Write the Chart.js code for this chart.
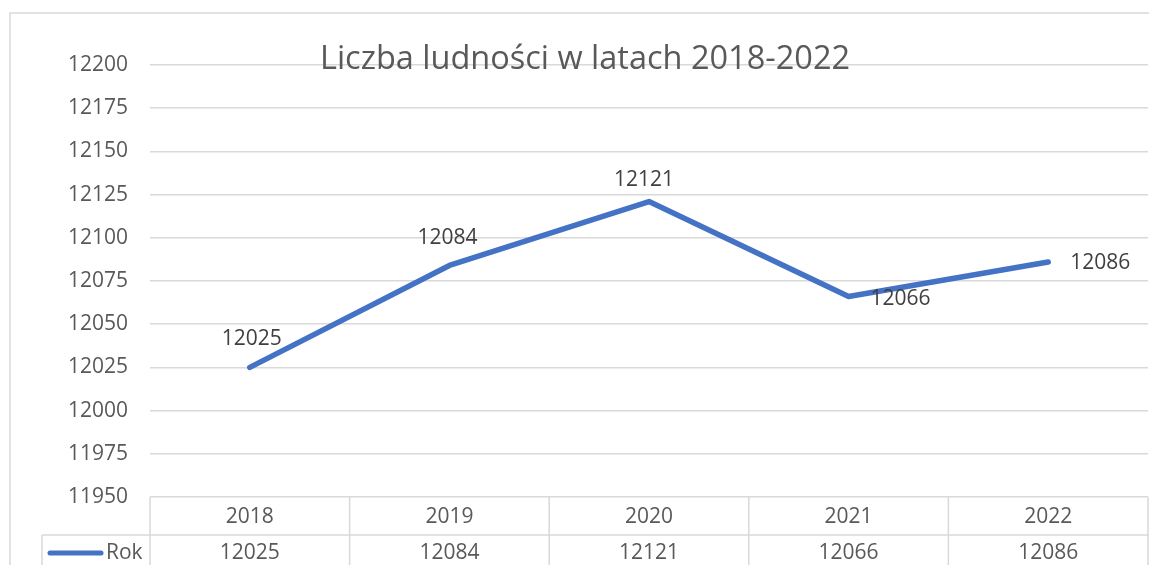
<!DOCTYPE html>
<html>
<head>
<meta charset="utf-8">
<script src="https://cdn.jsdelivr.net/npm/chart.js@4.4.0/dist/chart.umd.min.js"></script>
<style>
    body { margin: 0; background: #fff; }
</style>
</head>
<body>
<canvas id="wykres" width="1149" height="565"></canvas>
<script>
// dane wykresu
const lata = ['2018', '2019', '2020', '2021', '2022']
const ludnosc = [12025, 12084, 12121, 12066, 12086]
const nazwaSerii = 'Rok'
const tytulWykresu = 'Liczba ludności w latach 2018-2022'
const osYMin = 11950
const osYMax = 12200
const osYKrok = 25

// wygląd
const niebieski = '#4472C4'
const szaryTekst = '#595959'
const ciemnyTekst = '#404040'
const siatka = '#d9d9d9'
const czcionka = '"Open Sans", sans-serif'
// przesunięcia etykiet danych względem punktów
const przesuniecia = [[2, -28], [-2, -27], [-5, -21], [52, 2], [52, 1]]

const ramka = {
    id: 'ramka',
    beforeDraw(chart) {
        const ctx = chart.ctx
        ctx.save()
        ctx.strokeStyle = siatka
        ctx.lineWidth = 1.5
        ctx.strokeRect(10, 13, 1200, 600)
        ctx.restore()
    }
}

const tytul = {
    id: 'tytul',
    afterDraw(chart) {
        const ctx = chart.ctx
        ctx.save()
        ctx.font = '32.5px ' + czcionka
        ctx.fillStyle = szaryTekst
        ctx.textAlign = 'center'
        ctx.textBaseline = 'alphabetic'
        ctx.fillText(tytulWykresu, 585, 69)
        ctx.restore()
    }
}

const etykiety = {
    id: 'etykiety',
    afterDatasetsDraw(chart) {
        const ctx = chart.ctx
        const meta = chart.getDatasetMeta(0)
        ctx.save()
        ctx.font = '21px ' + czcionka
        ctx.fillStyle = ciemnyTekst
        ctx.textAlign = 'center'
        ctx.textBaseline = 'middle'
        meta.data.forEach(function (punkt, i) {
            ctx.fillText(String(ludnosc[i]), punkt.x + przesuniecia[i][0], punkt.y + przesuniecia[i][1])
        })
        ctx.restore()
    }
}

// tabela danych pod wykresem
const tabela = {
    id: 'tabela',
    afterDraw(chart) {
        const ctx = chart.ctx
        const obszar = chart.chartArea
        const x = chart.scales.x
        const szer = (obszar.right - obszar.left) / lata.length
        const gora = obszar.bottom
        const srodek = 535
        const dol = chart.height
        ctx.save()
        ctx.strokeStyle = siatka
        ctx.lineWidth = 1.5
        ctx.beginPath()
        ctx.moveTo(42, srodek)
        ctx.lineTo(chart.width, srodek)
        ctx.moveTo(42, srodek)
        ctx.lineTo(42, dol)
        for (let i = 0; i <= lata.length; i++) {
            const xx = obszar.left + i * szer
            ctx.moveTo(xx, gora)
            ctx.lineTo(xx, dol)
        }
        ctx.stroke()

        ctx.font = '21px ' + czcionka
        ctx.fillStyle = szaryTekst
        ctx.textAlign = 'center'
        ctx.textBaseline = 'middle'
        lata.forEach(function (rok, i) {
            const cx = x.getPixelForValue(i)
            ctx.fillText(rok, cx, 517)
            ctx.fillText(String(ludnosc[i]), cx, 553)
        })

        // klucz legendy
        ctx.strokeStyle = niebieski
        ctx.lineWidth = 5
        ctx.lineCap = 'round'
        ctx.beginPath()
        ctx.moveTo(50, 553)
        ctx.lineTo(101, 553)
        ctx.stroke()
        ctx.textAlign = 'left'
        ctx.fillText(nazwaSerii, 106, 553)
        ctx.restore()
    }
}

new Chart(document.getElementById('wykres'), {
    type: 'line',
    data: {
        labels: lata,
        datasets: [{
            label: nazwaSerii,
            data: ludnosc,
            borderColor: niebieski,
            borderWidth: 5.5,
            borderCapStyle: 'round',
            borderJoinStyle: 'round',
            tension: 0,
            pointRadius: 0,
            fill: false
        }]
    },
    options: {
        responsive: false,
        animation: false,
        events: [],
        layout: {
            padding: { top: 65, right: 1, bottom: 68, left: 0 }
        },
        plugins: {
            legend: { display: false },
            tooltip: { enabled: false },
            title: { display: false }
        },
        scales: {
            x: {
                display: false,
                offset: true
            },
            y: {
                min: osYMin,
                max: osYMax,
                afterFit: function (scale) { scale.width = 150 },
                ticks: {
                    stepSize: osYKrok,
                    color: szaryTekst,
                    padding: 22,
                    font: { family: czcionka, size: 21 },
                    callback: function (wartosc) { return String(wartosc) }
                },
                grid: {
                    color: siatka,
                    lineWidth: 1.5,
                    drawTicks: false
                },
                border: { display: false }
            }
        }
    },
    plugins: [ramka, tytul, etykiety, tabela]
})
</script>
</body>
</html>
